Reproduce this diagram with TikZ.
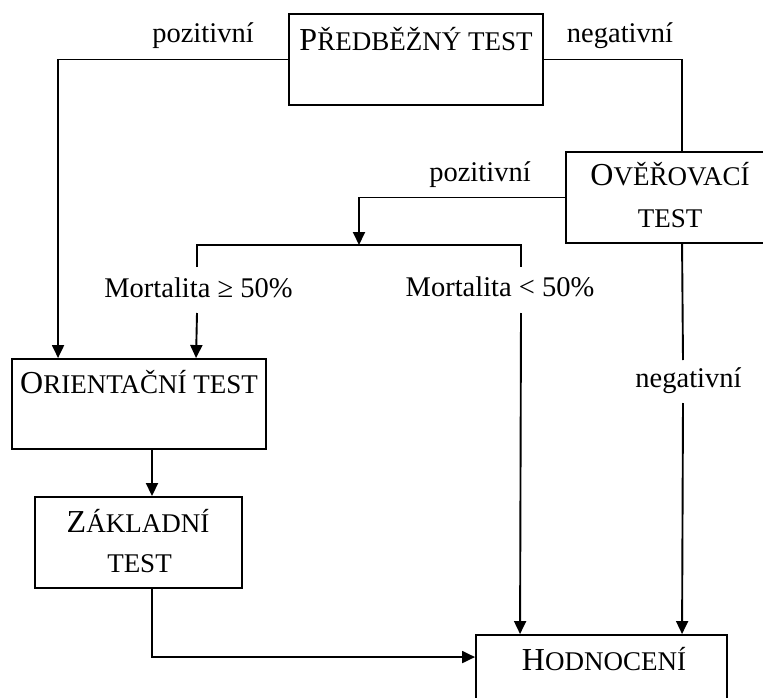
\documentclass[tikz,border=0pt]{standalone}
\usepackage{fontspec}
\setmainfont{Liberation Serif}
\usetikzlibrary{arrows.meta}
\newcommand{\lblf}{\fontsize{28.5}{30}\selectfont}
\newcommand{\capsA}[2]{{\fontsize{32}{34}\selectfont #1}{\fontsize{27}{29}\selectfont #2}}
\newcommand{\smc}[1]{{\fontsize{27}{29}\selectfont #1}}
\begin{document}
\begin{tikzpicture}[x=1pt,y=-1pt,
  box/.style={draw=black, line width=1.9pt, rectangle, inner sep=0pt},
  conn/.style={draw=black, line width=1.9pt},
  arr/.style={conn, -{Triangle[length=13pt,width=12pt]}},
  txt/.style={inner sep=0pt, anchor=base},
  lbl/.style={inner sep=0pt, anchor=base, font=\lblf}]
\useasboundingbox (0,0) rectangle (763,698);
% boxes
\node[box, minimum width=254pt, minimum height=91pt] (pre) at (416,59.5) {};
\node[box, minimum width=200pt, minimum height=91pt] (ove) at (666,197.5) {};
\node[box, minimum width=254pt, minimum height=90pt] (ori) at (139,404) {};
\node[box, minimum width=207pt, minimum height=91pt] (zak) at (138.5,542.5) {};
\node[box, minimum width=251pt, minimum height=110pt] (hod) at (601.5,690) {};
% box texts
\node[txt] (tpre) at (416,51) {\capsA{P}{ŘEDBĚŽNÝ TEST}};
\node[txt] (tove1) at (670,185) {\capsA{O}{VĚŘOVACÍ}};
\node[txt] (tove2) at (670,227) {\smc{TEST}};
\node[txt] (tori) at (139,393) {\capsA{O}{RIENTAČNÍ TEST}};
\node[txt] (tzak1) at (138,532) {\capsA{Z}{ÁKLADNÍ}};
\node[txt] (tzak2) at (139.5,572) {\smc{TEST}};
\node[txt] (thod) at (604,670) {\capsA{H}{ODNOCENÍ}};
% labels
\node[lbl] (lpos1) at (203,43) {pozitivní};
\node[lbl] (lneg1) at (620,43) {negativní};
\node[lbl] (lpos2) at (480,181) {pozitivní};
\node[lbl] (lm1) at (198.5,297) {Mortalita ≥ 50\%};
\node[lbl] (lm2) at (500,296) {Mortalita < 50\%};
\node[lbl] (lneg2) at (688.5,387) {negativní};
% anchor coordinates
\coordinate (oriA) at ([xshift=47pt]ori.north west);
\coordinate (oriB) at ([xshift=185pt]ori.north west);
\coordinate (oveT) at ([xshift=117pt]ove.north west);
\coordinate (oveB) at ([xshift=117pt]ove.south west);
\coordinate (hodA) at ([xshift=45pt]hod.north west);
\coordinate (hodB) at ([xshift=207pt]hod.north west);
\coordinate (hodL) at ([yshift=-23pt]hod.north west);
\coordinate (zakT) at ([xshift=13.5pt]zak.north);
\coordinate (zakB) at ([xshift=13.5pt]zak.south);
\coordinate (bm) at (359,245);
\coordinate (b1) at (197,267);
\coordinate (b2) at (197,245);
\coordinate (b3) at (521,245);
\coordinate (b4) at (521,267);
\coordinate (c1) at (197,313);
\coordinate (c2) at (521,313);
\coordinate (n1) at (683,360);
\coordinate (n2) at (683,403);
% connectors
\draw[arr] (pre.west) -| (oriA);
\draw[conn] (pre.east) -| (oveT);
\draw[arr] (ove.west) -| (bm);
\draw[conn] (b1) -- (b2) -- (b3) -- (b4);
\draw[arr] (c1) -- (oriB);
\draw[arr] (c2) -- (hodA);
\draw[conn] (oveB) -- (n1);
\draw[arr] (n2) -- (hodB);
\draw[arr] (ori.south -| zakT) -- (zakT);
\draw[arr] (zakB) |- (hodL);
\end{tikzpicture}
\end{document}
